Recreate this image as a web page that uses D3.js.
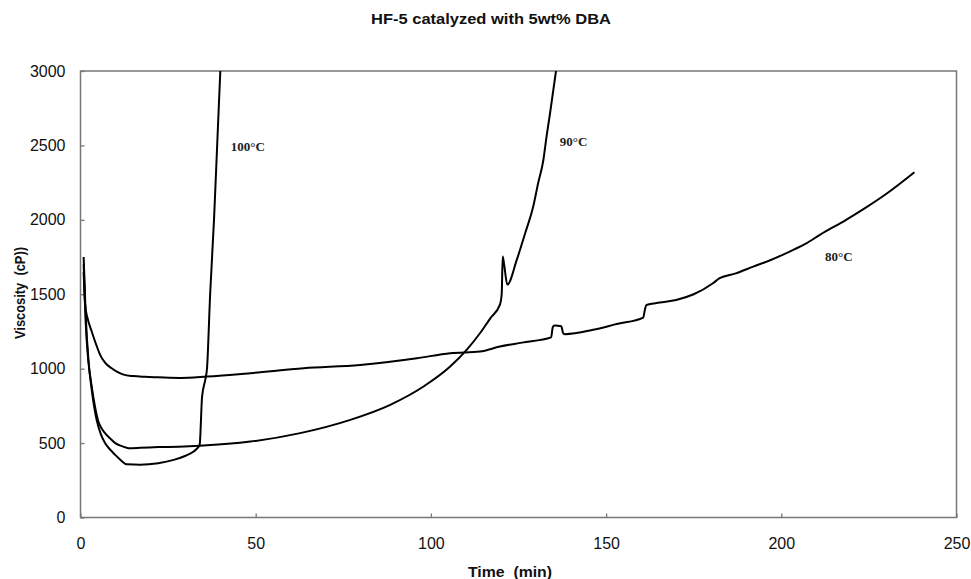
<!DOCTYPE html>
<head>
<meta charset="utf-8">
<style>
body { margin: 0; background: #fff; }
.axis text { font-family: "Liberation Sans", Arial, sans-serif; font-size: 16px; fill: #111; }
.axis line { stroke: #777; stroke-width: 1.3; }
.axis path { display: none; }
.curve { fill: none; stroke: #000; stroke-width: 2; stroke-linejoin: round; }
.lab { font-family: "Liberation Serif", "Times New Roman", serif; font-size: 13px; font-weight: bold; fill: #222; }
.ttl { font-family: "Liberation Sans", Arial, sans-serif; font-weight: bold; fill: #111; white-space: pre; }
</style>
<script src="https://d3js.org/d3.v7.min.js"></script>
</head>

<body>
<div id='chart'></div>

<script>

	// 80°C run
	var t80 = [0.9, 1.3, 2, 3.2, 4.5, 5.6, 7, 8.9, 10.5, 12.3, 15, 18.4, 22.2, 28.5, 36, 48.5, 63.7, 79.8, 96, 105.5, 114, 119.7, 126, 134.3, 134.8, 135.3, 137.2, 137.8, 138.3, 146.3, 153, 160.6, 161.1, 161.5, 165.3, 170, 175, 180.5, 182.4, 187, 192, 197, 202.4, 207, 211, 218.5, 224, 230, 238];
	var v80 = [1650, 1430, 1340, 1250, 1160, 1093, 1040, 1003, 978, 960, 950, 945, 942, 938, 947, 970, 1003, 1025, 1070, 1104, 1115, 1149, 1175, 1210, 1280, 1290, 1285, 1235, 1232, 1261, 1300, 1343, 1400, 1428, 1444, 1462, 1500, 1574, 1608, 1640, 1686, 1730, 1787, 1840, 1899, 2000, 2080, 2175, 2320];

	// 90°C run
	var t90 = [0.9, 1.5, 2.2, 3.2, 4.1, 5.1, 6, 7, 8.5, 9.9, 12, 13.7, 17, 22.2, 28, 34, 48.5, 62.7, 77, 88.4, 97.9, 105.5, 110.2, 114, 117, 119.7, 120.2, 120.5, 120.9, 121.8, 124.5, 126.9, 129.2, 130.6, 132.1, 133, 134, 135.7];
	var v90 = [1700, 1300, 1060, 880, 750, 645, 600, 567, 530, 500, 478, 466, 468, 473, 476, 482, 510, 567, 656, 757, 880, 1014, 1126, 1238, 1340, 1430, 1500, 1753, 1700, 1565, 1731, 1910, 2089, 2246, 2402, 2559, 2716, 3000];

	// 100°C run
	var t100 = [0.9, 1.5, 2.3, 3.2, 4.6, 5.8, 7, 8.5, 9.9, 11.5, 13.2, 17, 22.2, 26.6, 30, 32.3, 33.5, 34, 34.7, 35.6, 36.1, 37, 38.1, 39, 39.9];
	var v100 = [1750, 1350, 1050, 860, 656, 560, 500, 455, 421, 385, 358, 355, 365, 387, 415, 443, 470, 488, 813, 925, 1000, 1502, 2000, 2500, 3000];

	var series = [
		{name: '100°C', t: t100, v: v100, lx: 42.9, ly: 2463},
		{name: '90°C', t: t90, v: v90, lx: 136.8, ly: 2497},
		{name: '80°C', t: t80, v: v80, lx: 212.5, ly: 1724}
	];

	var xTicks = [0, 50, 100, 150, 200, 250];
	var yTicks = [0, 500, 1000, 1500, 2000, 2500, 3000];

	var margin = {top: 71, right: 14.5, bottom: 61.5, left: 80.5},
	    width = 971 - margin.left - margin.right,
	    height = 579 - margin.top - margin.bottom;

	var x = d3.scaleLinear().domain([0, 250]).range([0, width]);
	var y = d3.scaleLinear().domain([0, 3000]).range([height, 0]);

	var root = d3.select('#chart').append('svg')
		.attr('width', 971)
		.attr('height', 579);

	root.append('text')
		.attr('class', 'ttl')
		.attr('x', 491).attr('y', 24)
		.attr('text-anchor', 'middle')
		.attr('font-size', 15)
		.attr('textLength', 240).attr('lengthAdjust', 'spacingAndGlyphs')
		.text('HF-5 catalyzed with 5wt% DBA');

	var svg = root.append('g')
		.attr('transform', 'translate(' + margin.left + ',' + margin.top + ')');

	svg.append('g')
		.attr('class', 'axis')
		.attr('transform', 'translate(0,' + height + ')')
		.call(d3.axisBottom(x).tickValues(xTicks).tickFormat(d3.format('d')).tickSize(-4).tickPadding(20));

	svg.append('g')
		.attr('class', 'axis')
		.call(d3.axisLeft(y).tickValues(yTicks).tickFormat(d3.format('d')).tickSize(-4).tickPadding(15));

	svg.append('rect')
		.attr('width', width).attr('height', height)
		.attr('fill', 'none').attr('stroke', '#777').attr('stroke-width', 1.5);

	svg.append('defs').append('clipPath').attr('id', 'plot')
		.append('rect').attr('width', width).attr('height', height);

	var line = d3.line()
		.curve(d3.curveMonotoneX)
		.x(function(d) { return x(d[0]); })
		.y(function(d) { return y(d[1]); });

	svg.selectAll('.curve')
		.data(series)
		.enter().append('path')
			.attr('class', 'curve')
			.attr('clip-path', 'url(#plot)')
			.attr('d', function(s) { return line(d3.zip(s.t, s.v)); });

	svg.selectAll('.lab')
		.data(series)
		.enter().append('text')
			.attr('class', 'lab')
			.attr('x', function(s) { return x(s.lx); })
			.attr('y', function(s) { return y(s.ly); })
			.text(function(s) { return s.name; });

	root.append('text')
		.attr('class', 'ttl')
		.attr('x', 510).attr('y', 577)
		.attr('text-anchor', 'middle')
		.attr('font-size', 15)
		.attr('textLength', 84).attr('lengthAdjust', 'spacingAndGlyphs')
		.text('Time  (min)');

	root.append('text')
		.attr('class', 'ttl')
		.attr('transform', 'translate(25,293) rotate(-90)')
		.attr('text-anchor', 'middle')
		.attr('font-size', 14)
		.attr('textLength', 92).attr('lengthAdjust', 'spacingAndGlyphs')
		.text('Viscosity  (cP))');

</script>
</body>
